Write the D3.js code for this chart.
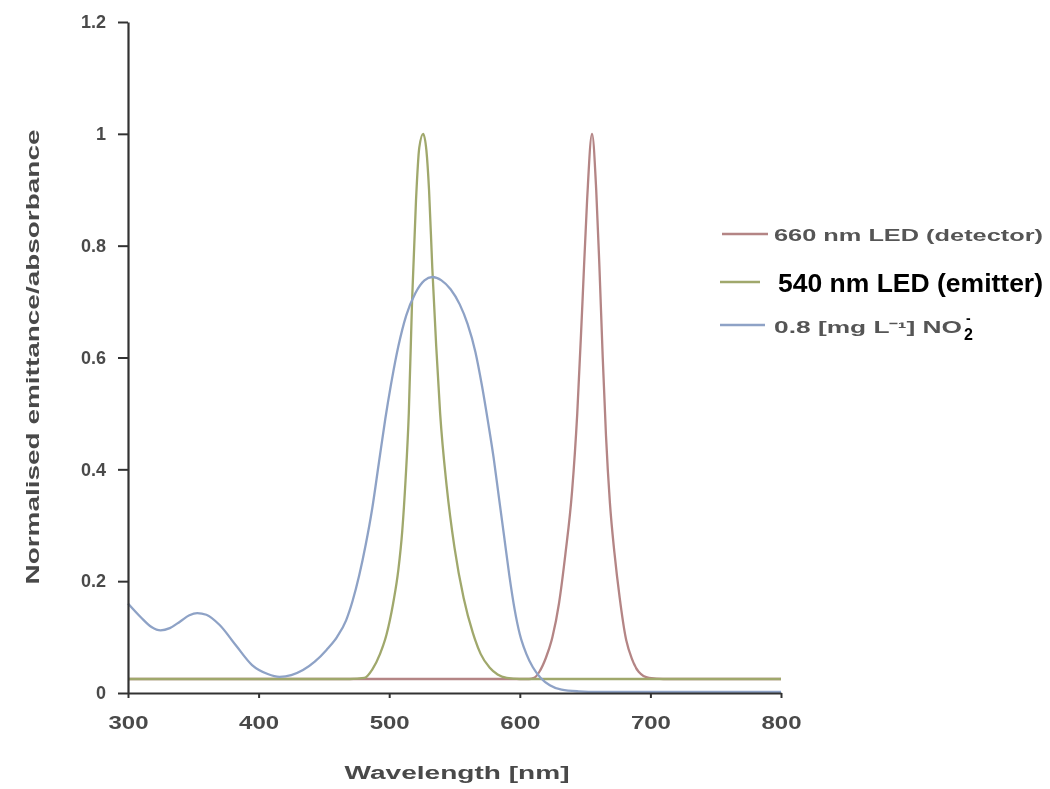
<!DOCTYPE html>
<html>
<head>
<meta charset="utf-8">
<script src="https://cdn.jsdelivr.net/npm/d3@7"></script>
<style>
  html, body { margin: 0; padding: 0; background: #ffffff; }
  svg { display: block; }
</style>
</head>
<body>
<svg id="chart" width="1050" height="789"></svg>
<script>
// ---------- data ----------
const xTicks = [300, 400, 500, 600, 700, 800];
const yTicks = [0, 0.2, 0.4, 0.6, 0.8, 1, 1.2];
const yTickLabels = ["0", "0.2", "0.4", "0.6", "0.8", "1", "1.2"];

const seriesNames = ["660 nm LED (detector)", "540 nm LED (emitter)", "0.8  [mg L\u207B\u00B9] NO"];

const redWl  = [300, 400, 500, 600, 607, 611, 615, 620, 625, 630, 635, 640, 644, 648, 651.5, 655.3, 658.5, 661, 663.5, 666, 669, 672.5, 676.5, 681, 686, 691, 699, 710, 800];
const redVal = [0.025, 0.025, 0.025, 0.025, 0.025, 0.027, 0.038, 0.063, 0.1, 0.16, 0.25, 0.36, 0.5, 0.7, 0.88, 1.0, 0.9, 0.76, 0.6, 0.46, 0.34, 0.25, 0.17, 0.1, 0.06, 0.038, 0.027, 0.025, 0.025];

const greenWl  = [300, 470, 481, 487, 493, 498, 503, 507, 510, 512.5, 515, 517.5, 520.5, 523, 526, 528.5, 530.5, 533, 536, 539, 544, 550, 557, 564, 570, 577, 583, 590, 600, 800];
const greenVal = [0.025, 0.025, 0.027, 0.042, 0.07, 0.105, 0.16, 0.22, 0.29, 0.38, 0.5, 0.7, 0.88, 0.975, 1.0, 0.97, 0.9, 0.76, 0.62, 0.5, 0.37, 0.26, 0.17, 0.108, 0.07, 0.045, 0.033, 0.027, 0.025, 0.025];

const blueWl  = [300, 310, 318, 325, 332, 340, 347, 353, 360, 370, 383, 395, 407, 416, 425, 434, 443, 452, 460, 467, 472, 477, 482, 487, 492, 497, 502, 507, 513, 520, 527, 533, 540, 547, 554, 560, 566, 571, 576, 580, 584, 588, 592, 596, 600, 605, 610, 616, 623, 632, 645, 660, 700, 800];
const blueVal = [0.16, 0.135, 0.118, 0.112, 0.116, 0.128, 0.139, 0.143, 0.14, 0.122, 0.084, 0.05, 0.034, 0.029, 0.032, 0.041, 0.056, 0.077, 0.1, 0.13, 0.165, 0.21, 0.265, 0.33, 0.41, 0.49, 0.56, 0.62, 0.675, 0.715, 0.738, 0.744, 0.738, 0.722, 0.695, 0.66, 0.61, 0.55, 0.48, 0.42, 0.35, 0.28, 0.21, 0.15, 0.105, 0.07, 0.046, 0.027, 0.014, 0.006, 0.003, 0.002, 0.002, 0.002];

const colors = ["#b48585", "#a0a86c", "#8ea2c6"];

// ---------- layout ----------
const svg = d3.select("#chart");
const x = d3.scaleLinear().domain([300, 800]).range([128, 781]);
const y = d3.scaleLinear().domain([0, 1.2]).range([693, 22]);

const defs = svg.append("defs");
defs.append("filter").attr("id", "soft")
  .append("feGaussianBlur").attr("stdDeviation", 0.6);

const g = svg.append("g").attr("filter", "url(#soft)");

// ---------- lines ----------
const line = d3.line().x(d => x(d[0])).y(d => y(d[1])).curve(d3.curveMonotoneX);
const series = [
  d3.zip(redWl, redVal),
  d3.zip(greenWl, greenVal),
  d3.zip(blueWl, blueVal)
];
series.forEach((s, i) => {
  g.append("path").datum(s)
    .attr("d", line)
    .attr("fill", "none")
    .attr("stroke", colors[i])
    .attr("stroke-width", 2.3)
    .attr("stroke-linejoin", "round");
});

// ---------- axes ----------
const xAxis = d3.axisBottom(x).tickValues(xTicks).tickSize(5).tickSizeOuter(0).tickFormat(d3.format("d"));
const yAxis = d3.axisLeft(y).tickValues(yTicks).tickSize(10).tickSizeOuter(0)
  .tickFormat((d, i) => yTickLabels[i]);

const gx = g.append("g").attr("transform", `translate(0,${y(0)})`).call(xAxis);
const gy = g.append("g").attr("transform", `translate(${x(300)},0)`).call(yAxis);

[gx, gy].forEach(ax => {
  ax.select(".domain").attr("stroke", "#333").attr("stroke-width", 2.2);
  ax.selectAll(".tick line").attr("stroke", "#333").attr("stroke-width", 2);
  ax.selectAll(".tick text")
    .attr("fill", "#4a4a4a")
    .attr("font-family", "Liberation Sans, Arial, sans-serif")
    .attr("font-weight", "bold");
});
gx.selectAll(".tick text").attr("font-size", 19).attr("dy", "0").attr("y", 36)
  .attr("textLength", 40).attr("lengthAdjust", "spacingAndGlyphs");
gy.selectAll(".tick text").attr("font-size", 18).attr("x", -22);

// axis titles
g.append("text")
  .attr("x", 457).attr("y", 779)
  .attr("text-anchor", "middle")
  .attr("font-family", "Liberation Sans, Arial, sans-serif")
  .attr("font-weight", "bold").attr("font-size", 18)
  .attr("fill", "#4a4a4a")
  .attr("textLength", 225).attr("lengthAdjust", "spacingAndGlyphs")
  .text("Wavelength [nm]");

g.append("text")
  .attr("transform", "translate(39,357) rotate(-90)")
  .attr("text-anchor", "middle")
  .attr("font-family", "Liberation Sans, Arial, sans-serif")
  .attr("font-weight", "bold").attr("font-size", 19)
  .attr("fill", "#4a4a4a")
  .attr("textLength", 455).attr("lengthAdjust", "spacingAndGlyphs")
  .text("Normalised emittance/absorbance");

// ---------- legend ----------
const legY = [234, 282, 325];
const legX1 = [722, 720, 720];
const legX2 = [768, 760, 765];
seriesNames.forEach((n, i) => {
  g.append("line")
    .attr("x1", legX1[i]).attr("x2", legX2[i])
    .attr("y1", legY[i]).attr("y2", legY[i])
    .attr("stroke", colors[i]).attr("stroke-width", 2.3);
});
g.append("text")
  .attr("x", 774).attr("y", 241)
  .attr("font-family", "Liberation Sans, Arial, sans-serif")
  .attr("font-weight", "bold").attr("font-size", 17)
  .attr("fill", "#555")
  .attr("textLength", 269).attr("lengthAdjust", "spacingAndGlyphs")
  .text(seriesNames[0]);
g.append("text")
  .attr("x", 774).attr("y", 333)
  .attr("font-family", "Liberation Sans, Arial, sans-serif")
  .attr("font-weight", "bold").attr("font-size", 16)
  .attr("fill", "#555")
  .attr("textLength", 188).attr("lengthAdjust", "spacingAndGlyphs")
  .text(seriesNames[2]);

// crisp overlay texts
svg.append("text")
  .attr("x", 778).attr("y", 292)
  .attr("font-family", "Liberation Sans, Arial, sans-serif")
  .attr("font-weight", "bold").attr("font-size", 25)
  .attr("fill", "#000")
  .attr("textLength", 265).attr("lengthAdjust", "spacingAndGlyphs")
  .text(seriesNames[1]);
svg.append("text")
  .attr("x", 964).attr("y", 340)
  .attr("font-family", "Liberation Sans, Arial, sans-serif")
  .attr("font-weight", "bold").attr("font-size", 16)
  .attr("fill", "#000")
  .text("2");
svg.append("text")
  .attr("x", 966).attr("y", 323)
  .attr("font-family", "Liberation Sans, Arial, sans-serif")
  .attr("font-weight", "bold").attr("font-size", 14)
  .attr("fill", "#000")
  .text("-");
</script>
</body>
</html>
